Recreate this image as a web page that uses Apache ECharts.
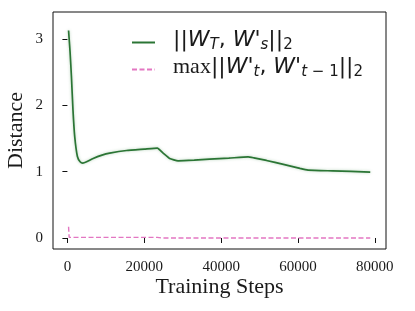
<!DOCTYPE html>
<html>
<head>
<meta charset="utf-8">
<script src="https://cdn.jsdelivr.net/npm/echarts@6/dist/echarts.min.js"></script>
<style>html,body{margin:0;padding:0;background:#fff;}#c{width:415px;height:311px;}</style>
</head>
<body>
<div id="c"></div>
<script>
const greenSteps = [300, 700, 1050, 1450, 1900, 2600, 3300, 4000, 5000, 6700, 9000, 11000, 15400, 20000, 23400, 24900, 26600, 28800, 33000, 37000, 42000, 47000, 48500, 51800, 56200, 60500, 62600, 69000, 78800];
const greenValues = [3.13, 2.8, 2.43, 1.93, 1.53, 1.23, 1.15, 1.13, 1.15, 1.20, 1.25, 1.28, 1.32, 1.34, 1.355, 1.28, 1.20, 1.165, 1.175, 1.19, 1.205, 1.225, 1.21, 1.17, 1.11, 1.05, 1.025, 1.013, 0.995];
const pinkSteps = [300, 450, 23400, 24500, 78800];
const pinkValues = [0.17, 0.01, 0.01, 0.0, 0.0];
const xTicks = [0, 20000, 40000, 60000, 80000];
const yTicks = [0, 1, 2, 3];
const seriesNames = ['green', 'pink'];

const zip = (a, b) => a.map((v, i) => [v, b[i]]);
const chart = echarts.init(document.getElementById('c'), null, {renderer: 'canvas'});
const serif = 'Liberation Serif';
const sans = 'DejaVu Sans';
const legendRich = {
  sp: {width: 13},
  it: {fontFamily: sans, fontStyle: 'italic', fontSize: 22, lineHeight: 26, color: '#1a1a1a'},
  up: {fontFamily: sans, fontSize: 22, lineHeight: 26, color: '#1a1a1a'},
  rm: {fontFamily: serif, fontSize: 22, lineHeight: 26, color: '#1a1a1a'},
  sub: {fontFamily: sans, fontStyle: 'italic', fontSize: 15, lineHeight: 15, verticalAlign: 'bottom', color: '#1a1a1a'},
  subu: {fontFamily: sans, fontSize: 15, lineHeight: 15, verticalAlign: 'bottom', color: '#1a1a1a'}
};
const labels = {
  green: "{sp|}{up|||}{it|W}{sub|T}{up|, }{it|W'}{sub|s}{up|||}{subu|2}",
  pink: "{sp|}{rm|max}{up|||}{it|W'}{sub|t}{up|, }{it|W'}{sub|t}{subu| − 1}{up|||}{subu|2}"
};
chart.setOption({
  animation: false,
  grid: {left: 53, right: 29, top: 12, bottom: 62, show: true, borderColor: '#111', borderWidth: 1, backgroundColor: 'transparent', outerBoundsMode: 'none', containLabel: false},
  legend: {
    orient: 'vertical', left: 131, top: 29, padding: 0, itemGap: 3,
    itemWidth: 23, itemHeight: 14,
    data: seriesNames,
    formatter: n => labels[n],
    itemStyle: {opacity: 0},
    textStyle: {rich: legendRich, padding: [0, 0, 5, 0]}
  },
  xAxis: {
    type: 'value', min: -3750, max: 82900,
    name: 'Training Steps', nameLocation: 'middle', nameGap: 27, nameMoveOverlap: false,
    nameTextStyle: {fontFamily: serif, fontSize: 22, color: '#1a1a1a'},
    axisLine: {show: false},
    splitLine: {show: false},
    axisTick: {show: true, customValues: xTicks, length: 5, lineStyle: {color: '#111'}},
    axisLabel: {customValues: xTicks, formatter: v => String(v), fontFamily: serif, fontSize: 15, color: '#1a1a1a', margin: 11}
  },
  yAxis: {
    type: 'value', min: -0.166, max: 3.41,
    name: 'Distance', nameLocation: 'middle', nameGap: 26, nameMoveOverlap: false,
    nameTextStyle: {fontFamily: serif, fontSize: 22, color: '#1a1a1a'},
    axisLine: {show: false},
    splitLine: {show: false},
    axisTick: {show: true, customValues: yTicks, length: 5, lineStyle: {color: '#111'}},
    axisLabel: {customValues: yTicks, formatter: v => String(v), fontFamily: serif, fontSize: 15, color: '#1a1a1a', margin: 10}
  },
  series: [
    {name: 'green', type: 'line', data: zip(greenSteps, greenValues), symbol: 'none', smooth: 0.15,
     lineStyle: {color: '#2b7535', width: 1.7, shadowColor: 'rgba(46,125,58,0.35)', shadowBlur: 3}, itemStyle: {color: '#2b7535'}},
    {name: 'pink', type: 'line', data: zip(pinkSteps, pinkValues), symbol: 'none',
     lineStyle: {color: '#e377c2', width: 1.4, type: [5, 2.5]}, itemStyle: {color: '#e377c2'}}
  ]
});
</script>
</body>
</html>
